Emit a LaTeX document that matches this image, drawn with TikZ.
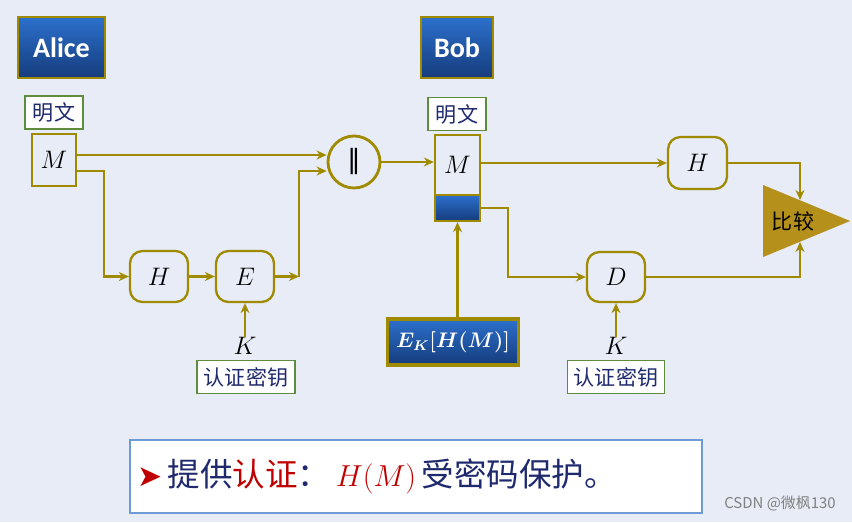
\documentclass[tikz,border=0pt]{standalone}
\usepackage{amsmath,bm}
\usepackage{fontspec}
\newfontfamily\cjk{Noto Sans CJK SC}
\newfontfamily\partyfont{Carlito}
\newfontfamily\symfont{DejaVu Sans}
\usepackage{tikz}
\usetikzlibrary{arrows.meta,positioning,calc,shapes.geometric}
\definecolor{SlideBack}{HTML}{E7ECF6}
\definecolor{SlideGold}{HTML}{A08A00}
\definecolor{SlideAmber}{HTML}{B5901A}
\definecolor{SlideGreen}{HTML}{5F8B3D}
\definecolor{SlideNavy}{HTML}{1F2A6E}
\definecolor{SlideRed}{HTML}{C00000}
\definecolor{SlideBlueTop}{HTML}{2C70CC}
\definecolor{SlideBlueBot}{HTML}{153C7C}
\definecolor{SlideFrame}{HTML}{6E9BD6}
\tikzset{
    % Base node style
    basenode/.style={
        draw=SlideGold,
        line width=1.3pt,
        inner sep=0pt,
        align=center
    },
    % Alice / Bob header
    partynode/.style={
        basenode,
        line width=1.6pt,
        top color=SlideBlueTop,
        bottom color=SlideBlueBot,
        text=white,
        minimum height=1.22cm,
        font=\partyfont\fontsize{16}{18}\selectfont\bfseries
    },
    % Green tag (plaintext, key)
    tagnode/.style={
        draw=SlideGreen,
        fill=white,
        line width=1pt,
        inner sep=0pt,
        minimum height=0.66cm,
        text=SlideNavy,
        font=\cjk\fontsize{12}{14}\selectfont
    },
    % Message box
    msgnode/.style={
        basenode,
        minimum width=0.88cm,
        font=\fontsize{15}{15}\selectfont
    },
    % Function box (H, E, D)
    funcnode/.style={
        basenode,
        rounded corners=2.5mm,
        minimum width=1.16cm,
        minimum height=1.02cm,
        font=\fontsize{15}{15}\selectfont
    },
    % Key letter
    keynode/.style={
        inner sep=0pt,
        font=\fontsize{14}{14}\selectfont
    },
    % Arrow style
    goldarrow/.style={
        -{Stealth[length=2mm,width=1.8mm]},
        line width=1.3pt,
        draw=SlideGold
    }
}

\begin{document}
\begin{tikzpicture}
    \fill[SlideBack] (0,0) rectangle (17.04,-10.44);
    \useasboundingbox (0,0) rectangle (17.04,-10.44);

    % Alice side
    \node[partynode, minimum width=1.74cm] (alice) at (1.23,-0.95) {Alice};
    \node[tagnode, minimum width=1.16cm] (ptA) at (1.08,-2.25) {明文};
    \node[msgnode, minimum height=1.04cm] (mA) at (1.08,-3.2) {$M$};
    \node[funcnode] (hA) at (3.18,-5.53) {$H$};
    \node[funcnode] (eA) at (4.9,-5.53) {$E$};
    \node[keynode] (kA) at (4.9,-6.92) {$K$};
    \node[tagnode, minimum width=1.96cm] (keyA) at (4.92,-7.54) {认证密钥};
    \node[basenode, circle, line width=1.6pt, minimum size=1.04cm,
          font=\symfont\fontsize{15}{15}\selectfont] (circ) at (7.08,-3.24) {‖};
    \coordinate (bendA) at (2.08,-5.53);
    \coordinate (bendE) at (5.98,-5.53);

    % Bob side
    \node[partynode, minimum width=1.44cm] (bob) at (9.14,-0.95) {Bob};
    \node[tagnode, minimum width=1.16cm] (ptB) at (9.14,-2.28) {明文};
    \node[msgnode, minimum width=0.9cm, minimum height=1.2cm] (mB) at (9.15,-3.3) {$M$};
    \node[basenode, minimum width=0.9cm, minimum height=0.52cm,
          top color=SlideBlueTop, bottom color=SlideBlueBot] (sigB) at (9.15,-4.16) {};
    \node[partynode, line width=2pt, minimum width=2.62cm, minimum height=0.92cm,
          font=\fontsize{12}{12}\selectfont] (ekhm) at (9.06,-6.84) {$\bm{E_K[H(M)]}$};
    \node[funcnode, minimum width=1.18cm, minimum height=1.04cm] (hB) at (13.95,-3.26) {$H$};
    \node[funcnode, minimum height=1cm] (dB) at (12.32,-5.54) {$D$};
    \node[keynode] (kB) at (12.32,-6.92) {$K$};
    \node[tagnode, minimum width=1.94cm] (keyB) at (12.32,-7.54) {认证密钥};
    \node[isosceles triangle, isosceles triangle stretches, fill=SlideAmber, inner sep=0pt,
          minimum width=1.44cm, minimum height=1.74cm, anchor=apex] (cmp) at (17.02,-4.42) {};
    \node[font=\cjk\fontsize{12}{14}\selectfont] (cmptext) at (15.86,-4.42) {比较};
    \coordinate (bendB) at (10.16,-5.54);
    \coordinate (cmptop) at (16.0,-4.0);
    \coordinate (cmpbot) at (16.0,-4.84);

    \draw[goldarrow] ([yshift=1mm]mA.east) -- ([yshift=1mm]mA.east -| circ.west);
    \draw[goldarrow] ([yshift=-2.2mm]mA.east) -| (bendA) -- (hA.west);
    \draw[goldarrow] (hA) -- (eA);
    \draw[goldarrow] (eA.east) -- (bendE);
    \draw[goldarrow] (bendE) |- ([yshift=-1.8mm]circ.west);
    \draw[goldarrow] (kA) -- (eA);
    \draw[goldarrow] (circ.east) -- (circ.east -| mB.west);
    \draw[goldarrow] (hB.west -| mB.east) -- (hB.west);
    \draw[goldarrow] (sigB.east) -| (bendB) -- (dB.west);
    \draw[goldarrow, line width=1.6pt] (sigB.south |- ekhm.north) -- (sigB.south);
    \draw[goldarrow] (kB) -- (dB);
    \draw[goldarrow] (hB.east) -| (cmptop);
    \draw[goldarrow] (dB.east) -| (cmpbot);

    % Summary line
    \node[draw=SlideFrame, fill=white, line width=1.2pt, minimum width=11.44cm, minimum height=1.46cm,
          inner sep=0pt] (note) at (8.32,-9.53) {};
    \node[anchor=west, inner sep=0pt, font=\cjk\fontsize{18.5}{20}\selectfont, text=SlideNavy]
        (notetext) at (2.74,-9.53)
        {{\symfont\color{SlideRed}\fontsize{17}{17}\selectfont ➤}\,提供{\color{SlideRed}认证}：\,{\color{SlideRed}$H(M)$}\,受密码保护。};
    \node[font=\cjk\fontsize{8.5}{10}\selectfont, text=gray] (mark) at (15.6,-10.08) {CSDN @微枫130};
\end{tikzpicture}
\end{document}
